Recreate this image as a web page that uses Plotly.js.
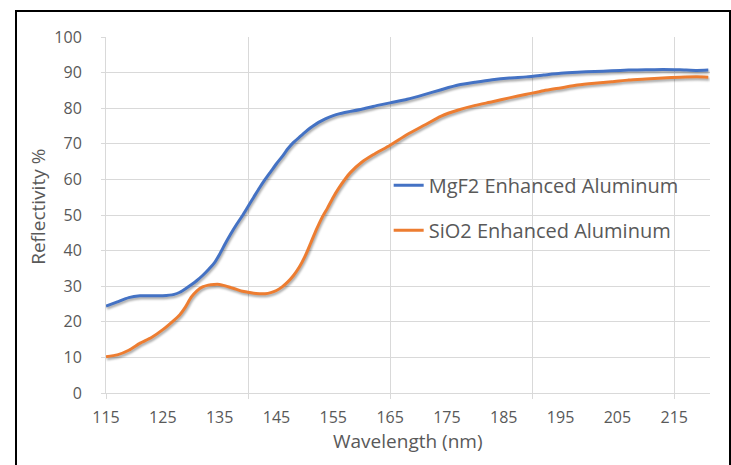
<!DOCTYPE html>
<html>
<head>
<meta charset="utf-8">
<script src="https://cdn.plot.ly/plotly-3.0.1.min.js"></script>
<style>
  html, body { margin: 0; padding: 0; background: #ffffff; overflow: hidden; }
  #wrap { position: relative; width: 731px; height: 465px; }
  #chart { width: 731px; height: 465px; }
  #frame { position: absolute; left: 15px; top: 10px; width: 712px; height: 470px;
           border: 2px solid #000; pointer-events: none; }
  .scatterlayer .trace path.js-line { filter: drop-shadow(1px 2px 1.2px rgba(0,0,0,0.35)); }
</style>
</head>
<body>
<div id="wrap">
  <div id="chart"></div>
  <div id="frame"></div>
</div>
<script>
// Wavelength (nm)
const wavelength = [115,117,119,121,123,125,127,128,129,130,131,132,133,134,135,136,137,138,139,140,
  141,142,143,144,145,146,147,148,149,150,151,152,153,154,155,156,157,158,160,162,
  165,168,171,174,177,180,183,186,189,192,195,198,201,204,207,210,213,216,219,221];

// Reflectivity % — MgF2 Enhanced Aluminum
const mgf2 = [24.4,25.6,26.8,27.3,27.3,27.3,27.7,28.3,29.3,30.4,31.6,33.0,34.6,36.4,39.0,42.0,44.8,47.4,49.8,52.4,
  55.0,57.6,60.0,62.2,64.4,66.4,68.6,70.4,71.8,73.2,74.5,75.6,76.5,77.3,77.9,78.4,78.8,79.1,79.7,80.5,
  81.5,82.5,83.8,85.2,86.5,87.3,88.0,88.5,88.8,89.3,89.8,90.1,90.3,90.5,90.7,90.8,90.9,90.8,90.6,90.7];

// Reflectivity % — SiO2 Enhanced Aluminum
const sio2 = [10.2,10.7,12.0,14.0,15.6,17.8,20.5,22.0,24.2,26.9,28.7,29.8,30.3,30.5,30.5,30.1,29.6,29.1,28.6,28.3,
  28.0,27.9,27.9,28.2,28.8,29.8,31.2,33.0,35.3,38.3,42.0,45.8,49.2,52.0,55.0,57.6,59.9,61.9,64.8,66.9,
  69.6,72.6,75.2,77.8,79.5,80.8,81.8,82.9,83.9,84.9,85.7,86.5,87.0,87.4,87.9,88.2,88.5,88.7,88.8,88.7];

const seriesNames = ["MgF2 Enhanced Aluminum", "SiO2 Enhanced Aluminum"];
const xTickVals = [115,125,135,145,155,165,175,185,195,205,215];
const xGridVals = [115,140,165,190,215];
const yTickVals = [0,10,20,30,40,50,60,70,80,90,100];

const gridColor = "#d9d9d9";
const textColor = "#595959";
const fontFam = "'Open Sans', 'Noto Sans', sans-serif";

const traces = [
  { x: wavelength, y: mgf2, name: seriesNames[0], type: "scatter", mode: "lines",
    line: { color: "#4472C4", width: 3, shape: "spline", smoothing: 0.6 }, legendgroup: "a" },
  { x: wavelength, y: sio2, name: seriesNames[1], type: "scatter", mode: "lines",
    line: { color: "#ED7D31", width: 3, shape: "spline", smoothing: 0.6 }, legendgroup: "b" }
];

const layout = {
  width: 731, height: 465,
  margin: { l: 106, r: 21, t: 37, b: 72 },
  paper_bgcolor: "#ffffff", plot_bgcolor: "#ffffff",
  font: { family: fontFam, color: textColor, size: 16 },
  showlegend: true,
  legend: {
    x: 0.468, y: 0.638, xanchor: "left", yanchor: "top",
    bgcolor: "rgba(0,0,0,0)", borderwidth: 0,
    font: { family: fontFam, size: 20, color: textColor },
    traceorder: "grouped", tracegroupgap: 16
  },
  xaxis: {
    range: [115, 221.3], autorange: false,
    tickmode: "array", tickvals: xTickVals, ticktext: xTickVals.map(String),
    showgrid: false, zeroline: false,
    showline: true, linecolor: gridColor, linewidth: 1,
    ticks: "", ticklabelstandoff: 10,
    tickfont: { family: fontFam, size: 16, color: textColor },
    minor: { tickmode: "array", tickvals: xGridVals, showgrid: true, gridcolor: gridColor,
             gridwidth: 1, ticks: "outside", ticklen: 5, tickcolor: gridColor }
  },
  yaxis: {
    range: [0, 100], autorange: false,
    tickmode: "array", tickvals: yTickVals, ticktext: yTickVals.map(String),
    showgrid: true, gridcolor: gridColor, gridwidth: 1, zeroline: false,
    showline: true, linecolor: gridColor, linewidth: 1,
    ticks: "outside", ticklen: 4, tickcolor: gridColor, ticklabelstandoff: 16,
    tickfont: { family: fontFam, size: 16, color: textColor }
  },
  annotations: [
    { text: "Wavelength (nm)", xref: "paper", yref: "paper", x: 0.5, y: -0.134,
      xanchor: "center", yanchor: "middle", showarrow: false,
      font: { family: fontFam, size: 19, color: textColor } },
    { text: "Reflectivity %", xref: "paper", yref: "paper", x: -0.1126, y: 0.523,
      xanchor: "center", yanchor: "middle", showarrow: false, textangle: -90,
      font: { family: fontFam, size: 19, color: textColor } }
  ]
};

Plotly.newPlot("chart", traces, layout, { displayModeBar: false, staticPlot: true });
</script>
</body>
</html>
